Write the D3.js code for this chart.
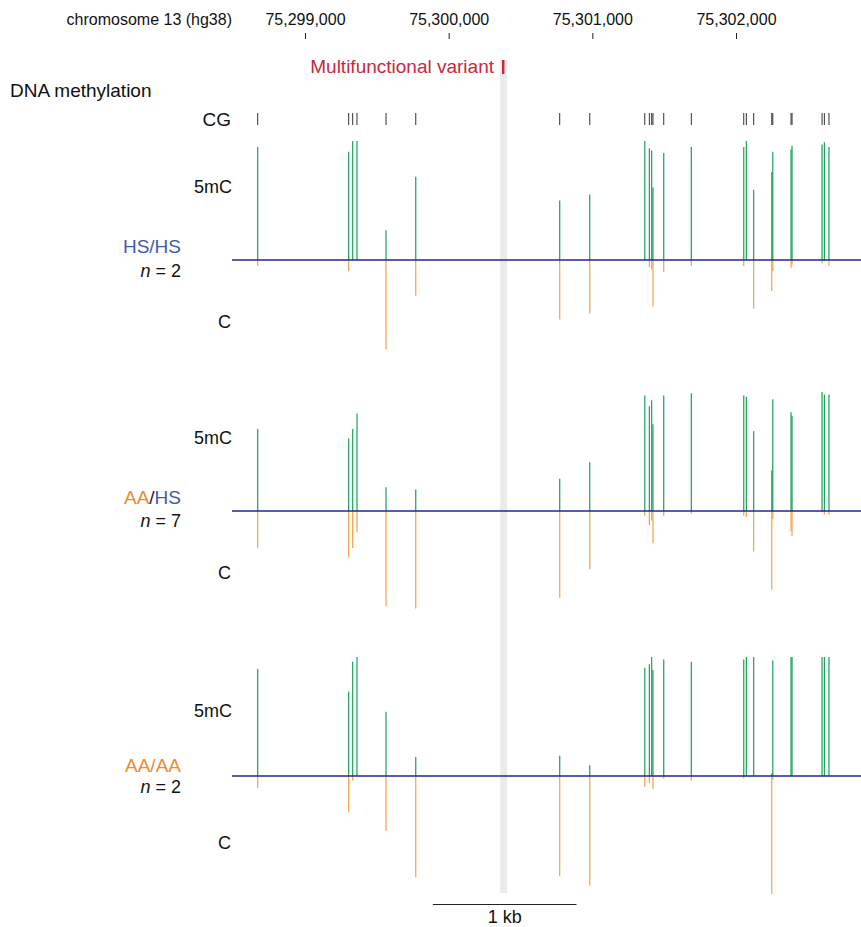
<!DOCTYPE html>
<html>
<head>
<meta charset="utf-8">
<script src="https://cdn.jsdelivr.net/npm/d3@7"></script>
<style>
  body { margin: 0; background: #fff; }
  svg { display: block; font-family: "Liberation Sans", Arial, Helvetica, sans-serif; }
</style>
</head>
<body>
<svg id="chart" width="861" height="927"></svg>
<script>
// chromosome 13 (hg38) coordinates
var axisTicks = [75299000, 75300000, 75301000, 75302000];
var variantPos = 75300383;

// CpG sites in the window
var cgSites = [75298671, 75299304, 75299332, 75299362, 75299564, 75299771,
  75300773, 75300982, 75301365, 75301397, 75301413, 75301422, 75301497,
  75301689, 75302054, 75302072, 75302123, 75302249, 75302256, 75302383,
  75302390, 75302599, 75302615, 75302647];

// genotype groups
var genotypes = [['HS', 'HS'], ['AA', 'HS'], ['AA', 'AA']];
var sampleCounts = [2, 7, 2];

// fraction 5mC (up) and C (down) per CpG site, one pair per genotype
var mC_HSHS = [0.95, 0.91, 1.0, 1.0, 0.25, 0.70, 0.50, 0.55, 1.0, 0.94, 0.92, 0.61,
  0.90, 0.95, 0.95, 1.0, 0.59, 0.74, 0.91, 0.93, 0.96, 0.97, 0.99, 0.95];
var c_HSHS = [0.05, 0.09, 0, 0, 0.75, 0.30, 0.50, 0.45, 0, 0.06, 0.08, 0.39,
  0.10, 0.05, 0.05, 0, 0.41, 0.26, 0.09, 0.07, 0.04, 0.03, 0.01, 0.05];

var mC_AAHS = [0.69, 0.61, 0.69, 0.82, 0.20, 0.18, 0.27, 0.41, 0.97, 0.88, 0.93, 0.73,
  0.97, 0.99, 0.97, 0.96, 0.67, 0.34, 0.94, 0.83, 0.80, 1.0, 0.98, 0.98];
var c_AAHS = [0.31, 0.39, 0.31, 0.18, 0.80, 0.82, 0.73, 0.49, 0.04, 0.12, 0.08, 0.27,
  0.04, 0.02, 0.04, 0.05, 0.34, 0.66, 0.07, 0.17, 0.21, 0.01, 0.03, 0.03];

var mC_AAAA = [0.90, 0.71, 0.96, 1.0, 0.54, 0.16, 0.17, 0.09, 0.91, 0.94, 1.0, 0.89,
  0.98, 0.96, 0.98, 1.0, 1.0, 0.02, 0.97, 1.0, 1.0, 1.0, 1.0, 1.0];
var c_AAAA = [0.10, 0.30, 0.04, 0, 0.46, 0.85, 0.84, 0.92, 0.09, 0.06, 0, 0.11,
  0.02, 0.04, 0.02, 0, 0, 0.99, 0.03, 0, 0, 0, 0, 0];

var methylSeries = [mC_HSHS, mC_AAHS, mC_AAAA];
var unmethSeries = [c_HSHS, c_AAHS, c_AAAA];

// colours
var alleleColor = { HS: '#3f5bab', AA: '#f08a2c' };
var green = '#17a157', orange = '#f5a04a', navy = '#25258f', red = '#c8283c';

var svg = d3.select('#chart');

var x = d3.scaleLinear().domain([75298492, 75302870]).range([232, 861]);
var h = d3.scaleLinear().domain([0, 1]).range([0, 119]); // bar length

// panel layout: baseline y and label offsets from it
var panels = [
  { base: 260, mc: -73, geno: -13, n: 11, c: 62 },
  { base: 511, mc: -73, geno: -13, n: 10, c: 62 },
  { base: 776, mc: -65, geno: -10, n: 11, c: 67 }
];

// grey band behind the variant
svg.append('rect')
  .attr('x', x(variantPos) - 3.5).attr('y', 60)
  .attr('width', 7).attr('height', 833)
  .attr('fill', '#ebebeb');

// top axis
var axis = svg.append('g').attr('transform', 'translate(0,39)')
  .call(d3.axisTop(x).tickValues(axisTicks).tickSize(6).tickPadding(8)
    .tickFormat(d3.format(',')));
axis.select('.domain').remove();
axis.selectAll('line').attr('stroke', '#222');
axis.selectAll('text').attr('font-size', 16).attr('font-family', null).attr('fill', '#111');

svg.append('text')
  .attr('x', 232).attr('y', 25).attr('text-anchor', 'end')
  .attr('font-size', 16).attr('fill', '#111')
  .text('chromosome 13 (hg38)');

// variant marker
svg.append('line')
  .attr('x1', x(variantPos) - 0.5).attr('x2', x(variantPos) - 0.5)
  .attr('y1', 60).attr('y2', 74)
  .attr('stroke', red).attr('stroke-width', 2.5);
svg.append('text')
  .attr('x', 494).attr('y', 73).attr('text-anchor', 'end')
  .attr('font-size', 19).attr('fill', red)
  .text('Multifunctional variant');

svg.append('text')
  .attr('x', 10).attr('y', 97)
  .attr('font-size', 19).attr('fill', '#111')
  .text('DNA methylation');

// CG track
svg.append('text')
  .attr('x', 231).attr('y', 126).attr('text-anchor', 'end')
  .attr('font-size', 19).attr('fill', '#111')
  .text('CG');
svg.append('g').selectAll('line')
  .data(cgSites)
  .enter().append('line')
    .attr('x1', (d) => x(d)).attr('x2', (d) => x(d))
    .attr('y1', 113).attr('y2', 125)
    .attr('stroke', '#333').attr('stroke-width', 1);

// methylation panels
panels.forEach((p, i) => {
  var g = svg.append('g').attr('class', 'panel');

  g.selectAll('line.mc')
    .data(methylSeries[i])
    .enter().append('line')
      .attr('class', 'mc')
      .attr('x1', (d, j) => x(cgSites[j])).attr('x2', (d, j) => x(cgSites[j]))
      .attr('y1', p.base).attr('y2', (d) => p.base - h(d))
      .attr('stroke', green).attr('stroke-width', 1.2);

  g.selectAll('line.c')
    .data(unmethSeries[i])
    .enter().append('line')
      .attr('class', 'c')
      .attr('x1', (d, j) => x(cgSites[j])).attr('x2', (d, j) => x(cgSites[j]))
      .attr('y1', p.base).attr('y2', (d) => p.base + h(d))
      .attr('stroke', orange).attr('stroke-width', 1.2);

  g.append('line')
    .attr('x1', 232).attr('x2', 861)
    .attr('y1', p.base).attr('y2', p.base)
    .attr('stroke', navy).attr('stroke-width', 1.3);

  g.append('text')
    .attr('x', 232).attr('y', p.base + p.mc + 6).attr('text-anchor', 'end')
    .attr('font-size', 18).attr('fill', '#111')
    .text('5mC');
  g.append('text')
    .attr('x', 231).attr('y', p.base + p.c + 6).attr('text-anchor', 'end')
    .attr('font-size', 18).attr('fill', '#111')
    .text('C');

  // genotype label, each allele in its own colour
  var geno = g.append('text')
    .attr('x', 181).attr('y', p.base + p.geno + 6).attr('text-anchor', 'end')
    .attr('font-size', 19);
  var a = genotypes[i];
  var slashColor = a[0] === a[1] ? alleleColor[a[0]] : '#222';
  geno.append('tspan').attr('fill', alleleColor[a[0]]).text(a[0]);
  geno.append('tspan').attr('fill', slashColor).text('/');
  geno.append('tspan').attr('fill', alleleColor[a[1]]).text(a[1]);

  var nLabel = g.append('text')
    .attr('x', 181).attr('y', p.base + p.n + 6).attr('text-anchor', 'end')
    .attr('font-size', 18).attr('fill', '#111');
  nLabel.append('tspan').attr('font-style', 'italic').text('n');
  nLabel.append('tspan').text(' = ' + sampleCounts[i]);
});

// scale bar, 1 kb
var barStart = 75300000 - 110;
svg.append('line')
  .attr('x1', x(barStart)).attr('x2', x(barStart + 1000))
  .attr('y1', 904.5).attr('y2', 904.5)
  .attr('stroke', '#222').attr('stroke-width', 1);
svg.append('text')
  .attr('x', (x(barStart) + x(barStart + 1000)) / 2).attr('y', 923)
  .attr('text-anchor', 'middle')
  .attr('font-size', 18).attr('fill', '#111')
  .text('1 kb');
</script>
</body>
</html>
